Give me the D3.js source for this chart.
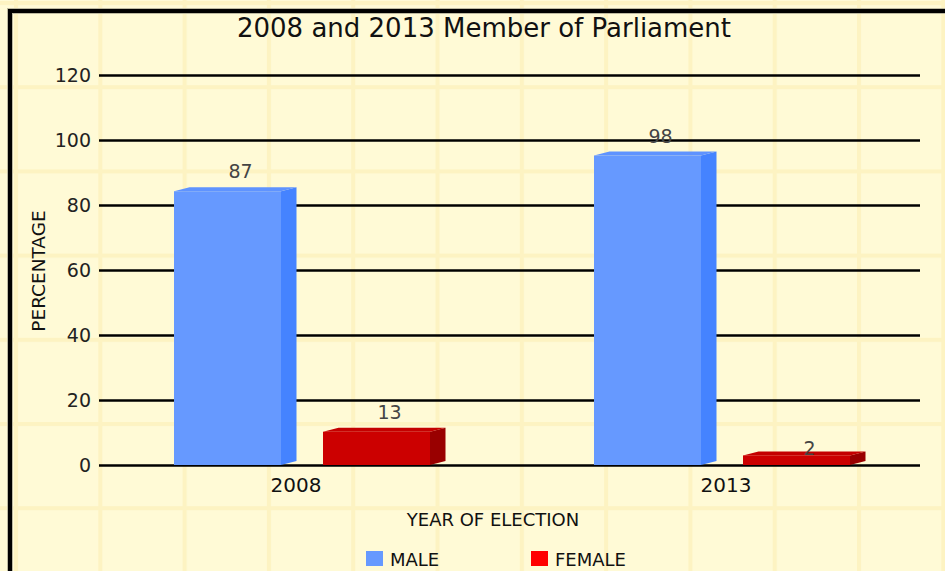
<!DOCTYPE html>
<html>
<head>
<meta charset="utf-8">
<script src="https://cdn.jsdelivr.net/npm/d3@7"></script>
<style>
  html, body { margin: 0; padding: 0; background: #fffad6; }
  svg { display: block; }
  text { font-family: "DejaVu Sans", sans-serif; }
</style>
</head>
<body>
<div id="chart"></div>
<script>
const titleText = "2008 and 2013 Member of Parliament";
const years = ["2008", "2013"];
const seriesNames = ["MALE", "FEMALE"];
const maleValues = [87, 98];
const femaleValues = [13, 2];
const yTicks = [0, 20, 40, 60, 80, 100, 120];
const xAxisTitle = "YEAR OF ELECTION";
const yAxisTitle = "PERCENTAGE";

const W = 945, H = 571;
const frontColors = { MALE: "#6699ff", FEMALE: "#cc0000" };
const topColors = { MALE: "#5f93ff", FEMALE: "#c40000" };
const sideColors = { MALE: "#4583ff", FEMALE: "#990000" };
const legendColors = { MALE: "#6699ff", FEMALE: "#ff0000" };

const svg = d3.select("#chart").append("svg").attr("width", W).attr("height", H);

// background pattern
const defs = svg.append("defs");
const pat = defs.append("pattern").attr("id", "bgp").attr("patternUnits", "userSpaceOnUse")
  .attr("x", 14).attr("y", 1).attr("width", 84.3).attr("height", 84.2);
pat.append("rect").attr("width", 84.3).attr("height", 84.2).attr("fill", "#fffad6");
pat.append("rect").attr("x", 0).attr("y", 0).attr("width", 4).attr("height", 84.2).attr("fill", "#fdf3c2");
pat.append("rect").attr("x", 0).attr("y", 0).attr("width", 84.3).attr("height", 4).attr("fill", "#fdf3c2");
svg.append("rect").attr("width", W).attr("height", H).attr("fill", "url(#bgp)");

// frame
svg.append("rect").attr("x", 10).attr("y", 11).attr("width", W + 20).attr("height", H + 20)
  .attr("fill", "none").attr("stroke", "#bdb9a0").attr("stroke-width", 6);
svg.append("rect").attr("x", 10).attr("y", 11).attr("width", W + 20).attr("height", H + 20)
  .attr("fill", "none").attr("stroke", "#000").attr("stroke-width", 4);

// scales
const y = d3.scaleLinear().domain([0, 120]).range([465, 75]);
const x0 = d3.scaleBand().domain(years).range([99, 939]).paddingInner(0).paddingOuter(0);
const x1 = d3.scaleBand().domain(seriesNames).range([0, 256]).paddingInner(42 / 149).paddingOuter(0);
const groupOffset = -135;
const depthX = 15.5, depthY = 4, barTopOffset = 9, minBarH = 9.6;

// gridlines + ticks
const axis = d3.axisLeft(y).tickValues(yTicks).tickSize(-(920 - 99)).tickPadding(8).tickFormat(d3.format("d"));
const gAxis = svg.append("g").attr("transform", "translate(99,0)").call(axis);
gAxis.select(".domain").remove();
gAxis.selectAll(".tick line").attr("stroke", "#000").attr("stroke-width", 2.5);
gAxis.selectAll(".tick text").attr("fill", "#222").attr("font-size", 19).attr("dy", "0.36em");

// data rows
const rows = [];
years.forEach((yr, i) => {
  rows.push({ year: yr, s: "MALE", v: maleValues[i] });
  rows.push({ year: yr, s: "FEMALE", v: femaleValues[i] });
});

const base = y(0);
const bars = svg.append("g");
rows.forEach(r => {
  const xl = x0(r.year) + x0.bandwidth() / 2 + groupOffset + x1(r.s);
  const xr = xl + x1.bandwidth();
  const top = Math.min(y(r.v) + barTopOffset, base - minBarH);
  const g = bars.append("g");
  g.append("path").attr("d", `M${xr},${top} L${xr + depthX},${top - depthY} L${xr + depthX},${base - depthY} L${xr},${base} Z`)
    .attr("fill", sideColors[r.s]);
  g.append("path").attr("d", `M${xl},${top} L${xl + depthX},${top - depthY} L${xr + depthX},${top - depthY} L${xr},${top} Z`)
    .attr("fill", topColors[r.s]);
  g.append("rect").attr("x", xl).attr("y", top).attr("width", xr - xl).attr("height", base - top)
    .attr("fill", frontColors[r.s]);
  svg.append("text").attr("x", (xl + xr) / 2 + 13).attr("y", y(r.v) - 4)
    .attr("text-anchor", "middle").attr("font-size", 19).attr("fill", "#444").text(r.v);
});

// category labels
svg.append("g").selectAll("text").data(years).join("text")
  .attr("x", (d, i) => x0(d) + x0.bandwidth() / 2 + (i === 0 ? -13 : -3))
  .attr("y", 492).attr("text-anchor", "middle").attr("font-size", 20).attr("fill", "#111").text(d => d);

// title
svg.append("text").attr("x", 484).attr("y", 37).attr("text-anchor", "middle")
  .attr("font-size", 26).attr("fill", "#111").text(titleText);

// axis titles
svg.append("text").attr("x", 493).attr("y", 526).attr("text-anchor", "middle")
  .attr("font-size", 18).attr("fill", "#111").text(xAxisTitle);
svg.append("text").attr("transform", "translate(45,271) rotate(-90)").attr("text-anchor", "middle")
  .attr("font-size", 18.5).attr("fill", "#111").text(yAxisTitle);

// legend
const legendX = [366, 531];
const lg = svg.append("g").selectAll("g").data(seriesNames).join("g")
  .attr("transform", (d, i) => `translate(${legendX[i]},551)`);
lg.append("rect").attr("width", 17).attr("height", 15).attr("fill", d => legendColors[d]);
lg.append("text").attr("x", 24).attr("y", 15).attr("font-size", 18).attr("fill", "#111").text(d => d);
</script>
</body>
</html>
